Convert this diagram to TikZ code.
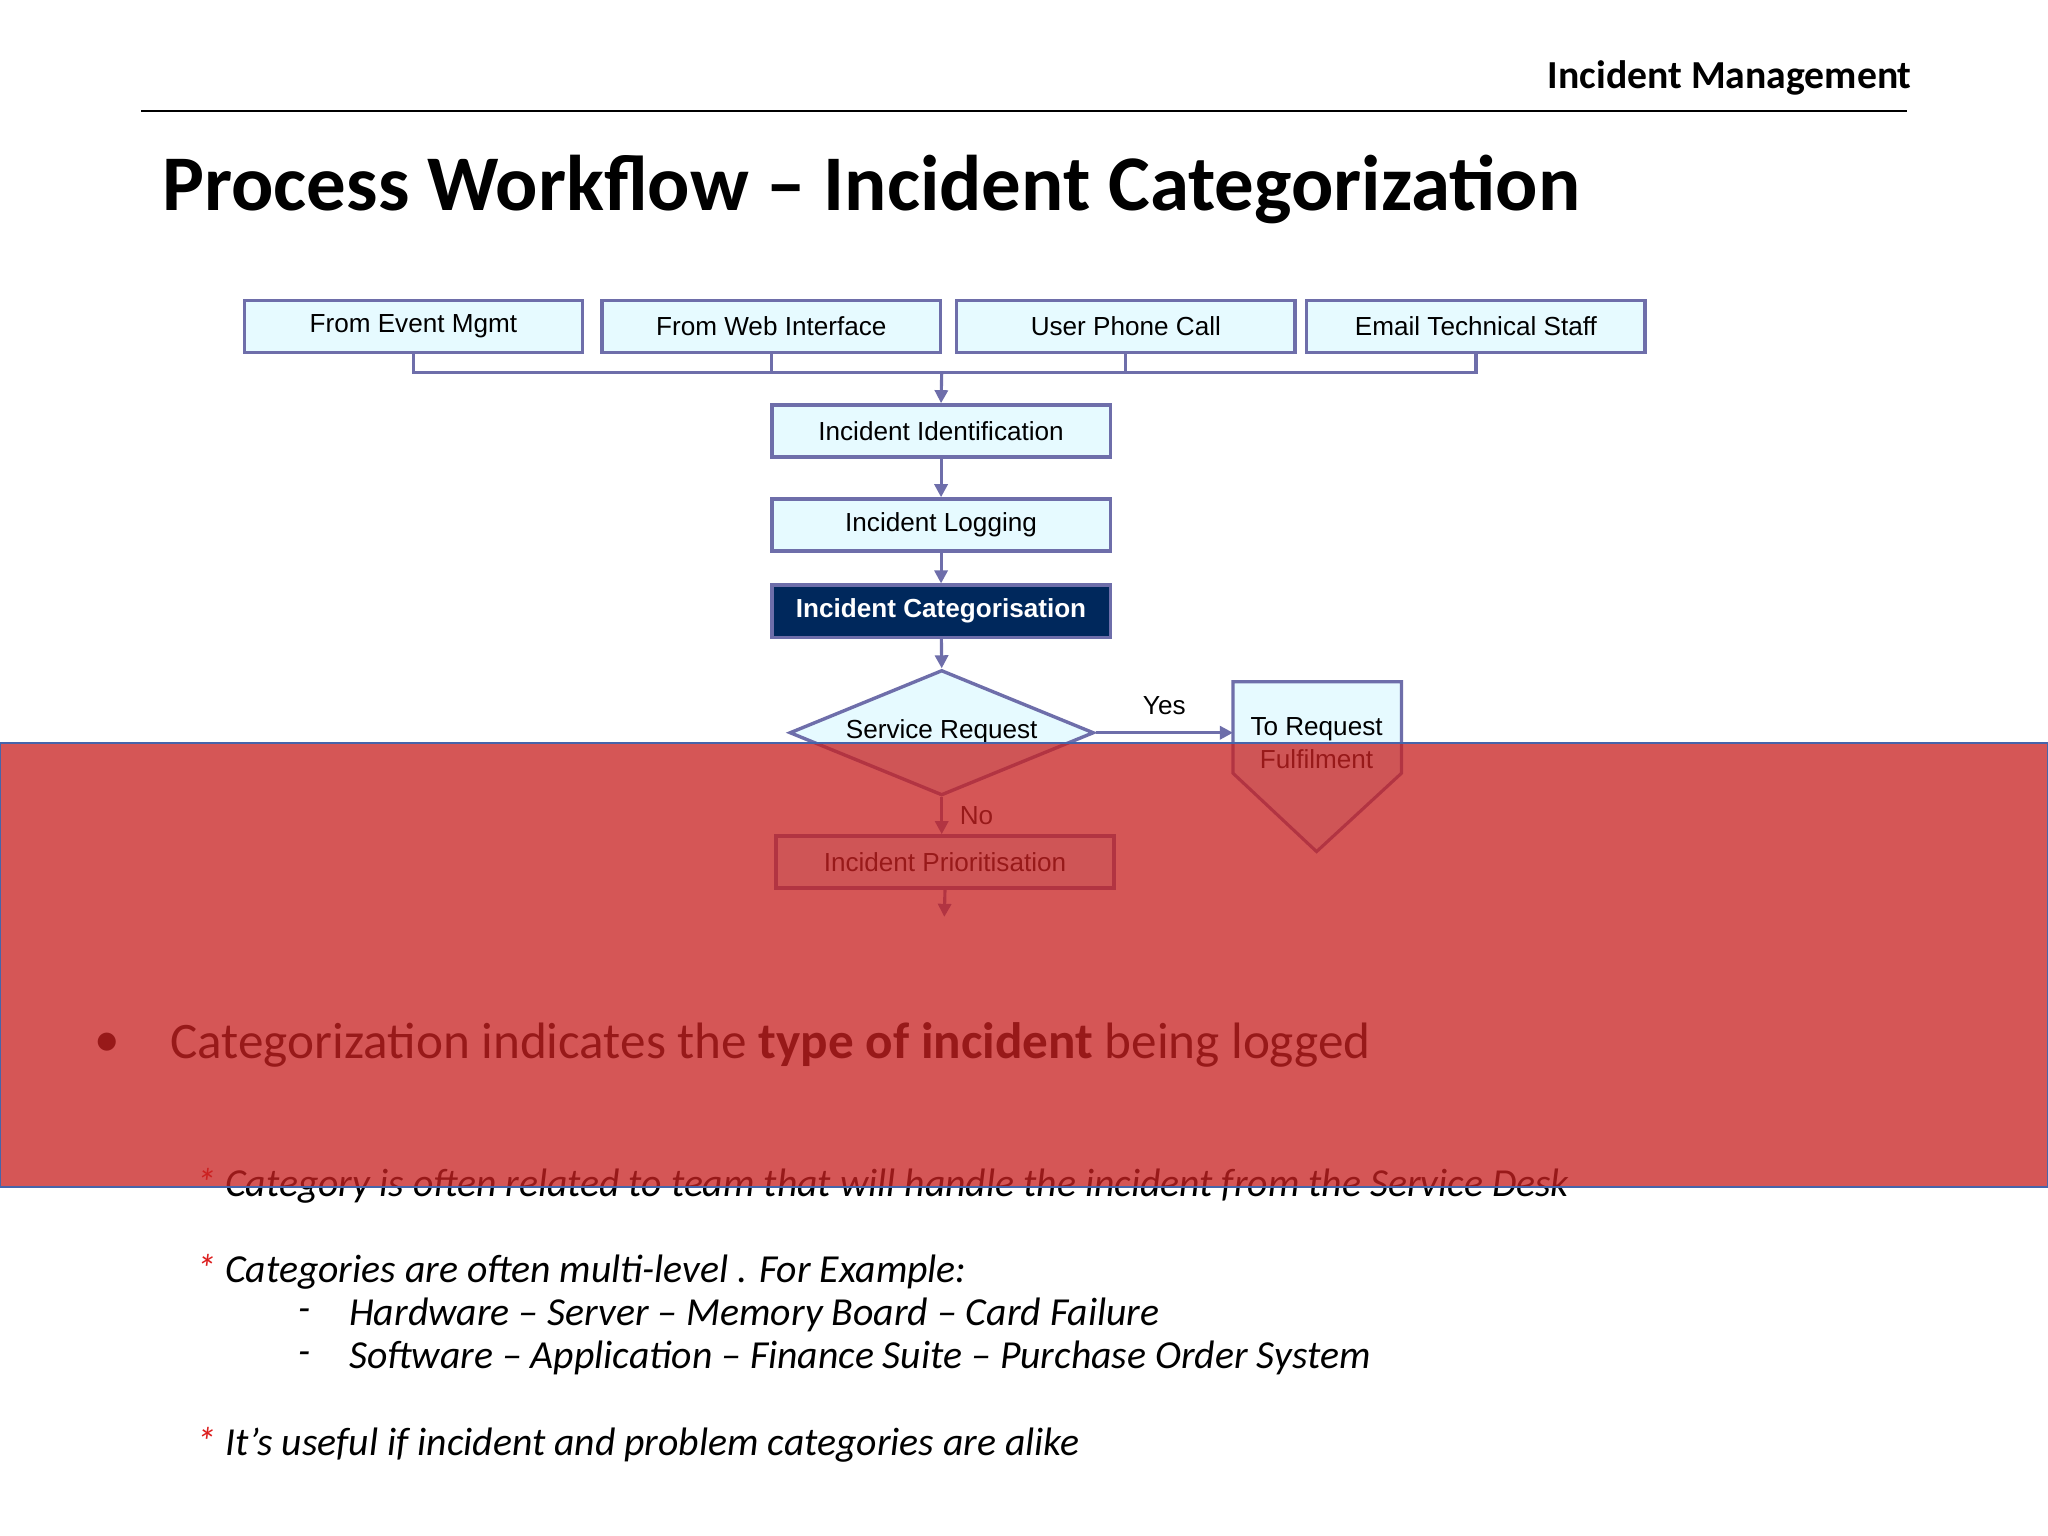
\documentclass[tikz,border=0pt]{standalone}
\usepackage{fontspec}
\setmainfont{Carlito}
\newfontfamily\arialf{Liberation Sans}
\usetikzlibrary{shapes.geometric,arrows.meta}
\definecolor{boxfill}{RGB}{230,250,255}
\definecolor{boxline}{RGB}{110,110,170}
\definecolor{navy}{RGB}{0,40,92}
\definecolor{ovl}{RGB}{200,34,34}
\definecolor{ovlline}{RGB}{70,100,170}
\definecolor{star}{RGB}{220,30,30}
\tikzset{
  fbox/.style={draw=boxline,line width=1.3pt,fill=boxfill,minimum width=129.5pt,minimum height=20pt,inner sep=0pt,font=\arialf\fontsize{10}{12}\selectfont},
  conn/.style={draw=boxline,line width=1.2pt},
  arr/.style={conn,-{Triangle[length=5pt,width=5pt]}},
  sub/.style={anchor=west,font=\itshape\fontsize{15.2}{18}\selectfont,inner sep=0pt}
}
\begin{document}
\begin{tikzpicture}[x=0.5pt,y=-0.5pt]
\useasboundingbox (0,0) rectangle (1568,1176);
\fill[white] (0,0) rectangle (1568,1176);
% header
\node[anchor=east,inner sep=0pt,font=\bfseries\fontsize{15.2}{18}\selectfont] (hdr) at (1464,60) {Incident Management};
\draw[line width=0.7pt] (108,85) -- (1460,85);
\node[anchor=west,inner sep=0pt,font=\bfseries\fontsize{30.2}{36}\selectfont] (title) at (124,145) {Process Workflow – Incident Categorization};
% flowchart
\node[fbox] (ev) at (316.5,250) {From Event Mgmt};
\node[fbox] (web) at (590.5,250) {From Web Interface};
\node[fbox] (ph) at (862,250) {User Phone Call};
\node[fbox] (em) at (1130,250) {Email Technical Staff};
\node[fbox] (iid) at (720.5,330) {Incident Identification};
\node[fbox] (ilog) at (720.5,402) {Incident Logging};
\node[fbox,fill=navy,text=white,font=\arialf\bfseries\fontsize{10}{12}\selectfont] (icat) at (720.5,468) {Incident Categorisation};
\node[draw=boxline,line width=1.3pt,fill=boxfill,shape=diamond,aspect=2.43,minimum width=116.5pt,minimum height=48pt,inner sep=0pt,font=\arialf\fontsize{10}{12}\selectfont] (sr) at (721,561) {};
\node[inner sep=0pt,font=\arialf\fontsize{10}{12}\selectfont] (srt) at (721,560) {Service Request};
\node[fbox] (ipr) at (723.5,660) {Incident Prioritisation};
\draw[conn,fill=boxfill] (944,522) -- (1073,522) -- (1073,592) -- (1008,652) -- (944,592) -- cycle;
\node[inner sep=0pt,align=center,font=\arialf\fontsize{10}{12.5}\selectfont] (trf) at (1008,569) {To Request\\Fulfilment};
\coordinate (bus) at (721,285);
\coordinate (end) at (723,702);
\draw[conn] (ev.south) |- (bus);
\draw[conn] (em.south) |- (bus);
\draw[conn] (web.south) -- (web.south |- bus);
\draw[conn] (ph.south) -- (ph.south |- bus);
\draw[arr] (bus) -- (iid.north);
\draw[arr] (iid) -- (ilog);
\draw[arr] (ilog) -- (icat);
\draw[arr] (icat) -- (sr.north);
\draw[arr] (sr.east) -- node[above=3pt,font=\arialf\fontsize{10}{12}\selectfont] (yes) {Yes} (944,561);
\draw[arr] (sr.south) -- node[right=3pt,font=\arialf\fontsize{10}{12}\selectfont] (no) {No} (ipr.north -| sr.south);
\draw[arr] (ipr.south) -- (end);
% text
\node[anchor=west,inner sep=0pt,font=\fontsize{19.6}{24}\selectfont] (bul) at (72,800) {•};
\node[anchor=west,inner sep=0pt,font=\fontsize{19.6}{24}\selectfont] (b1) at (130,800) {Categorization indicates the \textbf{type of incident} being logged};
\node[sub] (s1) at (150,908) {\textcolor{star}{*} Category is often related to team that will handle the incident from the Service Desk};
\node[sub] (s2) at (150,974) {\textcolor{star}{*} Categories are often multi-level . For Example:};
\node[sub] (d1) at (228,1007) {-};
\node[sub] (s3) at (267,1007) {Hardware – Server – Memory Board – Card Failure};
\node[sub] (d2) at (228,1040) {-};
\node[sub] (s4) at (267,1040) {Software – Application – Finance Suite – Purchase Order System};
\node[sub] (s5) at (150,1106) {\textcolor{star}{*} It’s useful if incident and problem categories are alike};
% overlay
\fill[ovl,fill opacity=0.76] (0,569) rectangle (1568,909);
\draw[ovlline,line width=0.6pt] (0,569) rectangle (1568,909);
\end{tikzpicture}
\end{document}
